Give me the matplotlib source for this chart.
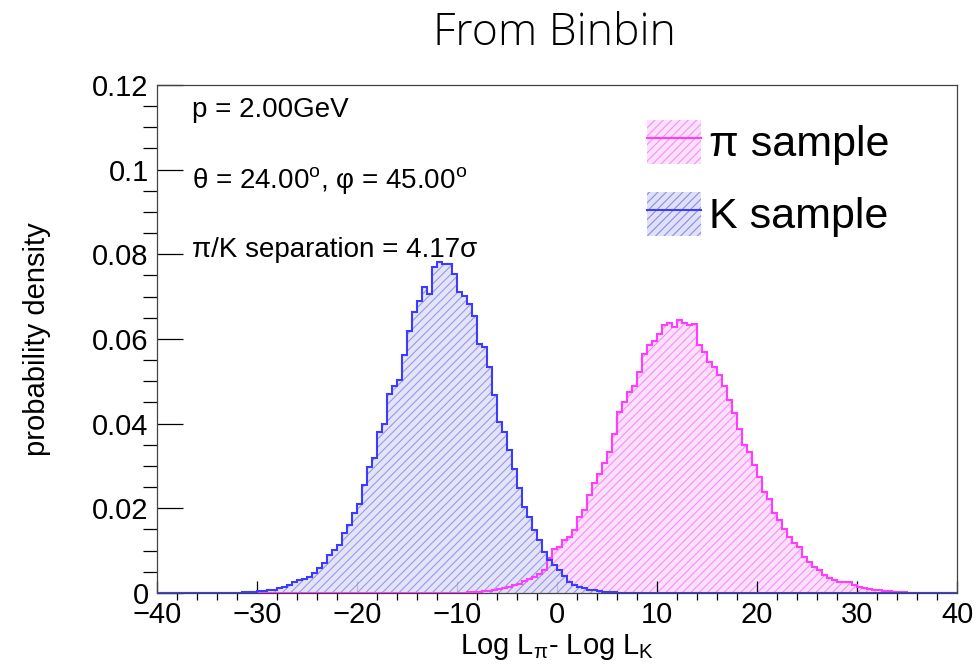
import numpy as np
import matplotlib.pyplot as plt
from matplotlib.patches import Patch
from matplotlib.lines import Line2D
from matplotlib.ticker import MultipleLocator

X_MIN, X_MAX, BIN_WIDTH = -40.0, 40.0, 0.5

# K sample, probability density per 0.5 bin, first bin starts at K_FIRST_EDGE
K_FIRST_EDGE = -33.0
k_density = [
    0.0001, 0.0001, 0.0001, 0.0002, 0.0002, 0.0003, 0.0004, 0.0005, 0.0006, 0.0008,
    0.0011, 0.0015, 0.0020, 0.0025, 0.0030, 0.0034, 0.0038, 0.0048, 0.0058, 0.0070,
    0.0090, 0.0101, 0.0113, 0.0141, 0.0160, 0.0188, 0.0211, 0.0255, 0.0297, 0.0320,
    0.0380, 0.0400, 0.0470, 0.0490, 0.0502, 0.0561, 0.0620, 0.0663, 0.0690, 0.0722,
    0.0707, 0.0769, 0.0783, 0.0777, 0.0778, 0.0754, 0.0710, 0.0702, 0.0683, 0.0655,
    0.0589, 0.0580, 0.0533, 0.0467, 0.0403, 0.0380, 0.0337, 0.0294, 0.0247, 0.0204,
    0.0180, 0.0149, 0.0125, 0.0097, 0.0078, 0.0066, 0.0054, 0.0039, 0.0027, 0.0019,
    0.0015, 0.0011, 0.0008, 0.0006, 0.0004, 0.0003, 0.0002, 0.0002, 0.0001, 0.0001,
    0.0001,
]

# pi sample, same binning
PI_FIRST_EDGE = -10.5
pi_density = [
    0.0001, 0.0001, 0.0001, 0.0002, 0.0002, 0.0003, 0.0004, 0.0005, 0.0007, 0.0009,
    0.0012, 0.0015, 0.0018, 0.0022, 0.0028, 0.0032, 0.0037, 0.0045, 0.0054, 0.0082,
    0.0105, 0.0109, 0.0125, 0.0133, 0.0149, 0.0180, 0.0196, 0.0231, 0.0259, 0.0282,
    0.0306, 0.0333, 0.0376, 0.0427, 0.0451, 0.0475, 0.0490, 0.0522, 0.0565, 0.0585,
    0.0596, 0.0612, 0.0632, 0.0637, 0.0629, 0.0644, 0.0637, 0.0632, 0.0635, 0.0585,
    0.0569, 0.0545, 0.0534, 0.0514, 0.0490, 0.0455, 0.0424, 0.0388, 0.0349, 0.0333,
    0.0302, 0.0274, 0.0239, 0.0223, 0.0188, 0.0172, 0.0152, 0.0133, 0.0117, 0.0109,
    0.0086, 0.0074, 0.0062, 0.0054, 0.0042, 0.0035, 0.0031, 0.0027, 0.0027, 0.0025,
    0.0019, 0.0015, 0.0011, 0.0009, 0.0007, 0.0006, 0.0005, 0.0004, 0.0003, 0.0002,
    0.0002, 0.0001, 0.0001, 0.0001,
]

y_ticks = [0, 0.02, 0.04, 0.06, 0.08, 0.1, 0.12]
y_tick_labels = ["0", "0.02", "0.04", "0.06", "0.08", "0.1", "0.12"]
x_ticks = [-40, -30, -20, -10, 0, 10, 20, 30, 40]

info_lines = [
    "p = 2.00GeV",
    r"θ = 24.00$^{\rm o}$, φ = 45.00$^{\rm o}$",
    "π/K separation = 4.17σ",
]

PI_LINE, PI_FACE, PI_HATCH = "#ff3cff", "#fde0fd", "#f590f5"
K_LINE, K_FACE, K_HATCH = "#3c3cff", "#e0e0f8", "#8c8ce6"


def full_range(first_edge, values):
    """Pad a run of bin contents with empty bins over the whole axis range."""
    edges = np.arange(X_MIN, X_MAX + BIN_WIDTH / 2, BIN_WIDTH)
    counts = np.zeros(len(edges) - 1)
    start = int(round((first_edge - X_MIN) / BIN_WIDTH))
    counts[start:start + len(values)] = values
    return edges, counts


plt.rcParams["font.family"] = ["Liberation Sans", "DejaVu Sans"]
plt.rcParams["mathtext.fontset"] = "custom"
plt.rcParams["mathtext.rm"] = "Liberation Sans"
plt.rcParams["mathtext.it"] = "Liberation Sans:italic"
plt.rcParams["hatch.linewidth"] = 0.8

fig = plt.figure(figsize=(9.76, 6.68), dpi=100)
ax = fig.add_axes([0.1609, 0.1123, 0.8197, 0.7605])

pi_edges, pi_counts = full_range(PI_FIRST_EDGE, pi_density)
k_edges, k_counts = full_range(K_FIRST_EDGE, k_density)

# hatched fills first, outlines on top
ax.stairs(pi_counts, pi_edges, fill=True, facecolor=PI_FACE, edgecolor=PI_HATCH,
          hatch="////", linewidth=0, zorder=1)
ax.stairs(k_counts, k_edges, fill=True, facecolor=K_FACE, edgecolor=K_HATCH,
          hatch="////", linewidth=0, alpha=0.85, zorder=2)
ax.stairs(pi_counts, pi_edges, color=PI_LINE, linewidth=1.5, zorder=3)
ax.stairs(k_counts, k_edges, color=K_LINE, linewidth=1.5, zorder=4)

ax.set_xlim(X_MIN, X_MAX)
ax.set_ylim(0, 0.12)
ax.xaxis.set_minor_locator(MultipleLocator(2))
ax.yaxis.set_minor_locator(MultipleLocator(0.005))
ax.set_yticks(y_ticks)
ax.set_yticklabels(y_tick_labels)
ax.set_xticks(x_ticks)
ax.set_xticklabels([str(v).replace("-", "\u2212") for v in x_ticks])

ax.tick_params(axis="both", direction="in", labelsize=21, colors="black",
               top=False, right=False)
ax.tick_params(axis="y", which="major", length=19, width=0.9, pad=6)
ax.tick_params(axis="y", which="minor", length=10, width=0.9)
ax.tick_params(axis="x", which="major", length=9, width=0.9, pad=6)
ax.tick_params(axis="x", which="minor", length=5, width=0.9)
for side in ax.spines.values():
    side.set_linewidth(0.9)
    side.set_color("#444444")

ax.set_ylabel("probability density", fontsize=21, labelpad=30)
ax.set_xlabel(r"Log L$_{\rm π}$- Log L$_{\rm K}$", fontsize=21, labelpad=2)

for text, y in zip(info_lines, [0.951, 0.811, 0.675]):
    ax.text(0.044, y, text, transform=ax.transAxes, fontsize=20, va="center", ha="left")

pi_handle = (Patch(facecolor=PI_FACE, edgecolor=PI_HATCH, hatch="////", linewidth=0),
             Line2D([], [], color=PI_LINE, linewidth=1.5))
k_handle = (Patch(facecolor=K_FACE, edgecolor=K_HATCH, hatch="////", linewidth=0),
            Line2D([], [], color=K_LINE, linewidth=1.5))
ax.legend([pi_handle, k_handle], ["π sample", "K sample"], loc="upper left",
          bbox_to_anchor=(0.6125, 0.932), frameon=False, fontsize=31,
          handlelength=1.25, handleheight=1.2, handletextpad=0.18,
          labelspacing=0.62, borderpad=0, borderaxespad=0)

fig.text(0.568, 0.95, "From Binbin", fontsize=32, ha="center", va="center",
         family=["Open Sans", "DejaVu Sans"], fontweight="light")

fig.savefig("out.png", dpi=100)
